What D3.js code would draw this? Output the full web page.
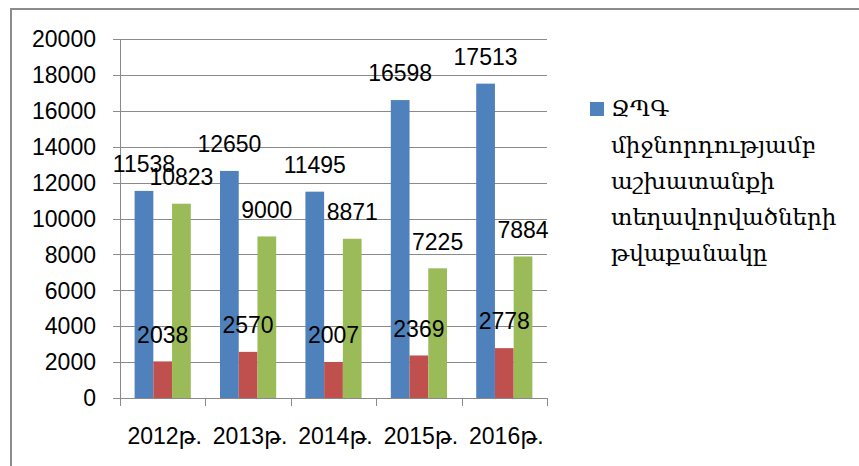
<!DOCTYPE html>
<html>
<head>
<meta charset="utf-8">
<script src="https://cdn.jsdelivr.net/npm/d3@7"></script>
<style>
  body { margin: 0; background: #fff; }
  svg { display: block; }
  .lbl { font-family: "Liberation Sans", "DejaVu Sans", sans-serif; font-size: 23px; fill: #000; }
  .leg { font-family: "DejaVu Serif", serif; font-size: 23px; fill: #000; }
</style>
</head>
<body>
<svg id="chart" width="859" height="466"></svg>
<script>
// data
var years = ["2012թ.", "2013թ.", "2014թ.", "2015թ.", "2016թ."];
var blueVals = [11538, 12650, 11495, 16598, 17513];
var redVals = [2038, 2570, 2007, 2369, 2778];
var greenVals = [10823, 9000, 8871, 7225, 7884];
var yTicks = [0, 2000, 4000, 6000, 8000, 10000, 12000, 14000, 16000, 18000, 20000];
var legendLines = ["ՋՊԳ", "միջնորդությամբ", "աշխատանքի", "տեղավորվածների", "թվաքանակը"];

var colors = ["#4F81BD", "#C0504D", "#9BBB59"];
var series = [blueVals, redVals, greenVals];

var svg = d3.select("#chart");

// outer frame (only top and left edges are visible)
svg.append("rect")
  .attr("x", 11).attr("y", 9)
  .attr("width", 900).attr("height", 500)
  .attr("fill", "none")
  .attr("stroke", "#8c8c8c")
  .attr("stroke-width", 2);

var plotLeft = 120, plotRight = 547, plotTop = 39, plotBottom = 398;

var y = d3.scaleLinear().domain([0, 20000]).range([plotBottom, plotTop]);
var x0 = d3.scaleBand().domain(years).range([plotLeft, plotRight]).padding(0);
var x1 = d3.scaleBand().domain([0, 1, 2]).range([0, x0.bandwidth()])
  .paddingInner(0).paddingOuter(0.78);

// gridlines + y tick marks
svg.append("g").selectAll("line")
  .data(yTicks)
  .join("line")
  .attr("x1", plotLeft - 7).attr("x2", plotRight)
  .attr("y1", function (d) { return Math.round(y(d)) + 0.5; })
  .attr("y2", function (d) { return Math.round(y(d)) + 0.5; })
  .attr("stroke", "#8a8a8a")
  .attr("stroke-width", 1);

// y axis line
svg.append("line")
  .attr("x1", plotLeft + 0.5).attr("x2", plotLeft + 0.5)
  .attr("y1", plotTop).attr("y2", plotBottom)
  .attr("stroke", "#8a8a8a");

// y labels
svg.append("g").selectAll("text")
  .data(yTicks)
  .join("text")
  .attr("class", "lbl")
  .attr("x", 96)
  .attr("y", function (d) { return y(d); })
  .attr("dy", "0.36em")
  .attr("text-anchor", "end")
  .text(function (d) { return d; });

// category tick marks
var catEdges = years.map(function (d) { return x0(d); }).concat([plotRight]);
svg.append("g").selectAll("line")
  .data(catEdges)
  .join("line")
  .attr("x1", function (d) { return Math.round(d) + 0.5; })
  .attr("x2", function (d) { return Math.round(d) + 0.5; })
  .attr("y1", plotBottom).attr("y2", plotBottom + 8)
  .attr("stroke", "#8a8a8a");

// bars
series.forEach(function (vals, s) {
  svg.append("g").selectAll("rect")
    .data(vals)
    .join("rect")
    .attr("x", function (d, i) { return x0(years[i]) + x1(s); })
    .attr("width", x1.bandwidth())
    .attr("y", function (d) { return y(d); })
    .attr("height", function (d) { return plotBottom - y(d); })
    .attr("fill", colors[s]);
});

// value labels
series.forEach(function (vals, s) {
  svg.append("g").selectAll("text")
    .data(vals)
    .join("text")
    .attr("class", "lbl")
    .attr("x", function (d, i) { return x0(years[i]) + x1(s) + x1.bandwidth() / 2; })
    .attr("y", function (d) { return y(d) - 27; })
    .attr("dy", "0.36em")
    .attr("text-anchor", "middle")
    .text(function (d) { return d; });
});

// x labels
svg.append("g").selectAll("text")
  .data(years)
  .join("text")
  .attr("class", "lbl")
  .attr("x", function (d) { return x0(d) + x0.bandwidth() / 2 + 2; })
  .attr("y", 436)
  .attr("dy", "0.36em")
  .attr("text-anchor", "middle")
  .text(function (d) { return d; });

// legend
svg.append("rect")
  .attr("x", 590).attr("y", 102)
  .attr("width", 14).attr("height", 14)
  .attr("fill", colors[0]);

svg.append("g").selectAll("text")
  .data(legendLines)
  .join("text")
  .attr("class", "leg")
  .attr("x", 611)
  .attr("y", function (d, i) { return 108 + i * 36.3; })
  .attr("dy", "0.36em")
  .text(function (d) { return d; });
</script>
</body>
</html>
